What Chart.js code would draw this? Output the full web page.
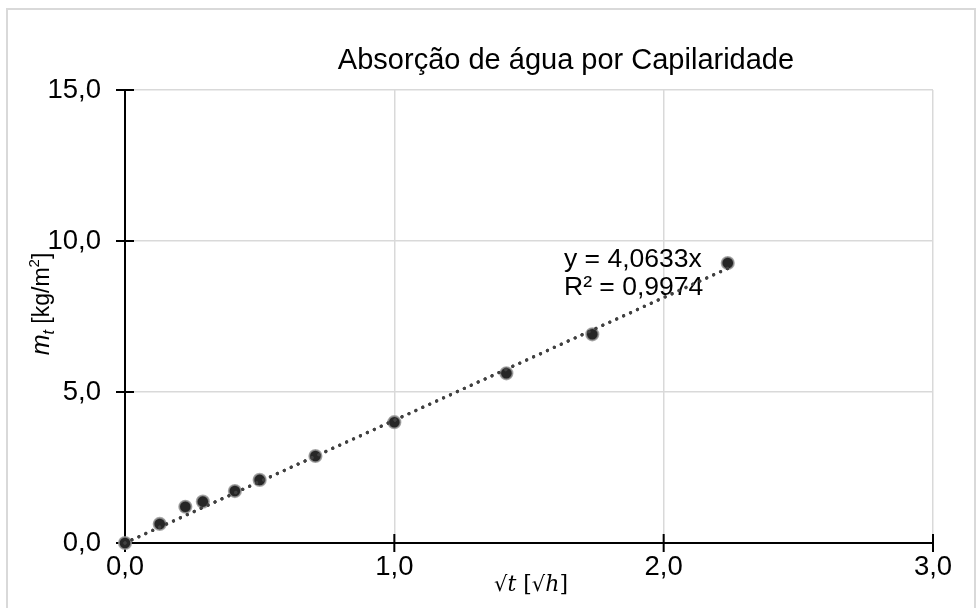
<!DOCTYPE html>
<html>
<head>
<meta charset="utf-8">
<script src="https://cdn.jsdelivr.net/npm/chart.js@4"></script>
<style>
html,body{margin:0;padding:0;background:#fff;}
#wrap{width:978px;height:608px;position:relative;}
</style>
</head>
<body>
<div id="wrap"><canvas id="c" width="978" height="608"></canvas></div>
<script>
// ---- data ----
const sqrtTime = [0, 0.129, 0.224, 0.289, 0.408, 0.5, 0.707, 1.0, 1.416, 1.735, 2.238];
const massGain = [0, 0.63, 1.20, 1.37, 1.72, 2.09, 2.88, 4.00, 5.62, 6.91, 9.27];
const trendX = [0, 2.238];
const trendY = [0, 9.094];
const xTickLabels = ['0,0', '1,0', '2,0', '3,0'];
const yTickLabels = ['0,0', '5,0', '10,0', '15,0'];
const xTickValues = [0, 1, 2, 3];
const yTickValues = [0, 5, 10, 15];
const chartTitle = 'Absorção de água por Capilaridade';
const eqLine1 = 'y = 4,0633x';
const eqLine2 = 'R² = 0,9974';

const pts = sqrtTime.map((x, i) => ({x: x, y: massGain[i]}));
const trend = trendX.map((x, i) => ({x: x, y: trendY[i]}));

const FONT = '"Liberation Sans", Arial, sans-serif';
const SERIF = '"DejaVu Serif", serif';

const decor = {
  id: 'decor',
  beforeDraw(chart) {
    const ctx = chart.ctx;
    ctx.save();
    ctx.fillStyle = '#fff';
    ctx.fillRect(0, 0, chart.width, chart.height);
    ctx.strokeStyle = '#d9d9d9';
    ctx.lineWidth = 2;
    ctx.strokeRect(7, 9, 968, 620);
    ctx.restore();
  },
  beforeDatasetsDraw(chart) {
    const ctx = chart.ctx;
    const xs = chart.scales.x, ys = chart.scales.y;
    const x0 = xs.getPixelForValue(0), y0 = ys.getPixelForValue(0);
    const xMax = xs.getPixelForValue(3), yMax = ys.getPixelForValue(15);
    ctx.save();
    ctx.strokeStyle = '#000';
    ctx.lineWidth = 2;
    ctx.beginPath();
    ctx.moveTo(x0, yMax); ctx.lineTo(x0, y0);
    ctx.moveTo(x0, y0); ctx.lineTo(xMax, y0);
    xTickValues.forEach(v => {
      const p = xs.getPixelForValue(v);
      ctx.moveTo(p, y0 - 9); ctx.lineTo(p, y0 + 9);
    });
    yTickValues.forEach(v => {
      const p = ys.getPixelForValue(v);
      ctx.moveTo(x0 - 9, p); ctx.lineTo(x0 + 9, p);
    });
    ctx.stroke();
    ctx.restore();
  },
  afterDraw(chart) {
    const ctx = chart.ctx;
    ctx.save();
    ctx.fillStyle = '#000';
    // title
    ctx.font = '29px ' + FONT;
    ctx.textAlign = 'center';
    ctx.textBaseline = 'alphabetic';
    ctx.fillText(chartTitle, 566, 69);

    // y axis title (rotated): m_t [kg/m²]
    ctx.save();
    ctx.translate(49, 304);
    ctx.rotate(-Math.PI / 2);
    ctx.textAlign = 'left';
    const parts = [
      {t: 'm', f: 'italic 25px ' + FONT, dy: 0},
      {t: 't', f: 'italic 16px ' + FONT, dy: 5},
      {t: ' [kg/m', f: '23px ' + FONT, dy: 0},
      {t: '2', f: '15px ' + FONT, dy: -10},
      {t: ']', f: '23px ' + FONT, dy: 0}
    ];
    let total = 0;
    parts.forEach(p => { ctx.font = p.f; p.w = ctx.measureText(p.t).width; total += p.w; });
    let cx = -total / 2;
    parts.forEach(p => { ctx.font = p.f; ctx.fillText(p.t, cx, p.dy); cx += p.w; });
    ctx.restore();

    // x axis title: √t [√h]
    ctx.textAlign = 'left';
    const xparts = [
      {t: '√', f: '21px ' + SERIF},
      {t: 't', f: 'italic 22px ' + SERIF},
      {t: ' [', f: '22px ' + SERIF},
      {t: '√', f: '21px ' + SERIF},
      {t: 'h', f: 'italic 22px ' + SERIF},
      {t: ']', f: '22px ' + SERIF}
    ];
    total = 0;
    xparts.forEach(p => { ctx.font = p.f; p.w = ctx.measureText(p.t).width; total += p.w; });
    cx = 531 - total / 2;
    xparts.forEach(p => { ctx.font = p.f; ctx.fillText(p.t, cx, 591); cx += p.w; });

    // equation
    ctx.font = '26.5px ' + FONT;
    ctx.textAlign = 'left';
    ctx.fillText(eqLine1, 564, 267);
    ctx.fillText(eqLine2, 564, 295);
    ctx.restore();
  }
};

// draw trendline again on top of equation text
const trendOnTop = {
  id: 'trendOnTop',
  afterDraw(chart) {
    const meta = chart.getDatasetMeta(0);
    chart.ctx.save();
    meta.dataset.draw(chart.ctx, chart.chartArea);
    chart.ctx.restore();
  }
};

new Chart(document.getElementById('c'), {
  type: 'scatter',
  data: {
    datasets: [
      {
        label: 'trend',
        data: trend,
        showLine: true,
        borderColor: '#404040',
        borderWidth: 3.3,
        borderDash: [0.01, 7.6],
        borderCapStyle: 'round',
        pointRadius: 0,
        fill: false,
        clip: false,
        order: 0
      },
      {
        label: 'mt',
        data: pts,
        pointRadius: 6.2,
        pointBackgroundColor: '#262626',
        pointBorderColor: 'rgba(150,150,150,0.8)',
        pointBorderWidth: 1.8,
        clip: false,
        order: 1
      }
    ]
  },
  options: {
    responsive: false,
    animation: false,
    devicePixelRatio: 1,
    layout: {padding: {top: 90, right: 45, left: 0, bottom: 0}},
    plugins: {legend: {display: false}, tooltip: {enabled: false}, title: {display: false}},
    scales: {
      x: {
        type: 'linear', min: 0, max: 3,
        afterFit(s) { s.height = 65; },
        afterBuildTicks(s) { s.ticks = xTickValues.map(v => ({value: v})); },
        grid: {color: '#d9d9d9', lineWidth: 1.5, drawTicks: false},
        border: {display: false},
        ticks: {
          padding: 8,
          color: '#000',
          font: {family: FONT, size: 27.5},
          callback: (v, i) => xTickLabels[i]
        }
      },
      y: {
        type: 'linear', min: 0, max: 15,
        afterFit(s) { s.width = 125; },
        afterBuildTicks(s) { s.ticks = yTickValues.map(v => ({value: v})); },
        grid: {color: '#d9d9d9', lineWidth: 1.5, drawTicks: false},
        border: {display: false},
        ticks: {
          padding: 24,
          color: '#000',
          font: {family: FONT, size: 27.5},
          callback: (v, i) => yTickLabels[i]
        }
      }
    }
  },
  plugins: [decor, trendOnTop]
});
</script>
</body>
</html>
